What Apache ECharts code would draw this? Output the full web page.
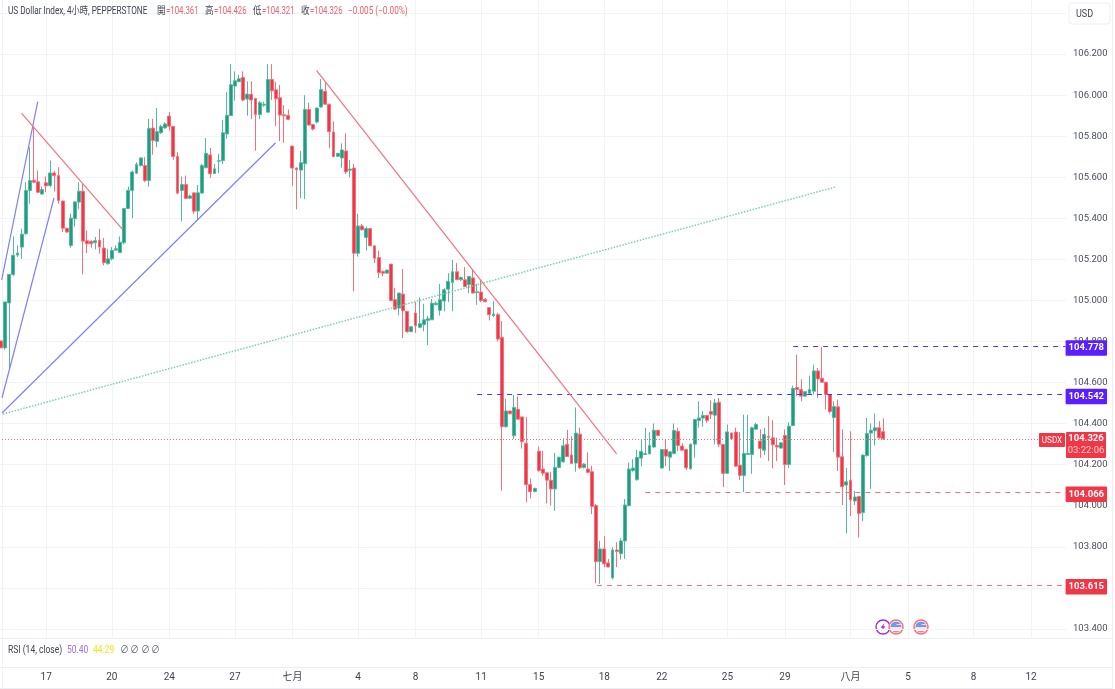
<!DOCTYPE html>
<html><head><meta charset="utf-8">
<style>html,body{margin:0;padding:0;background:#fff}#c{width:1115px;height:689px}</style>
<script src="https://cdn.jsdelivr.net/npm/echarts@6/dist/echarts.min.js"></script>
</head><body><div id="c"></div>
<script>
const opens=[
104.803,104.769,104.988,105.127,105.221,105.260,105.325,105.536,105.586,105.578,
105.518,105.573,105.560,105.621,105.608,105.484,105.352,105.268,105.398,105.479,
105.532,105.291,105.288,105.281,105.293,105.255,105.179,105.203,105.245,105.233,
105.281,105.448,105.536,105.620,105.657,105.657,105.584,105.840,105.775,105.817,
105.840,105.898,105.847,105.701,105.536,105.565,105.498,105.524,105.436,105.523,
105.646,105.709,105.618,105.678,105.681,105.811,105.900,106.044,106.065,106.086,
105.981,106.004,105.984,105.906,105.951,105.917,106.076,106.026,105.987,105.904,
105.901,105.752,105.645,105.635,105.666,105.930,105.857,105.869,105.942,106.019,
105.956,105.820,105.702,105.694,105.728,105.634,105.645,105.230,105.363,105.307,
105.350,105.266,105.209,105.141,105.133,105.177,105.004,104.963,105.031,104.947,
104.848,104.939,104.869,104.882,104.903,104.906,104.979,104.952,104.997,105.055,
105.088,105.140,105.101,105.101,105.077,105.110,105.038,105.041,105.005,104.965,
104.926,104.931,104.820,104.385,104.462,104.341,104.470,104.433,104.305,104.103,
104.070,104.266,104.179,104.161,104.125,104.082,104.187,104.214,104.300,104.247,
104.208,104.349,104.187,104.179,104.166,104.001,103.728,103.790,103.722,103.649,
103.785,103.767,103.829,104.001,104.172,104.127,104.232,104.250,104.253,104.286,
104.368,104.184,104.274,104.237,104.255,104.363,104.291,104.274,104.180,104.300,
104.415,104.427,104.440,104.459,104.441,104.504,104.299,104.158,104.355,104.359,
104.198,104.148,104.250,104.250,104.373,104.315,104.271,104.339,104.331,104.294,
104.281,104.342,104.201,104.391,104.576,104.566,104.534,104.547,104.558,104.657,
104.621,104.602,104.542,104.430,104.482,104.239,104.101,104.125,104.023,104.046,
103.967,104.245,104.354,104.365,104.380,104.361];
const closes=[
104.769,104.993,105.127,105.220,105.231,105.323,105.536,105.584,105.576,105.527,
105.540,105.558,105.621,105.608,105.487,105.352,105.333,105.401,105.480,105.532,
105.289,105.276,105.276,105.291,105.260,105.184,105.203,105.244,105.252,105.284,
105.448,105.536,105.626,105.662,105.694,105.584,105.838,105.779,105.822,105.847,
105.860,105.848,105.701,105.523,105.565,105.497,105.509,105.435,105.524,105.657,
105.717,105.617,105.641,105.681,105.817,105.902,106.051,106.070,106.080,105.976,
106.005,105.976,105.906,105.963,105.956,106.076,106.021,105.982,105.903,105.899,
105.882,105.645,105.637,105.671,105.930,105.854,105.835,105.937,106.027,105.956,
105.822,105.700,105.716,105.733,105.626,105.640,105.230,105.363,105.344,105.350,
105.266,105.206,105.135,105.133,105.148,105.000,104.958,105.036,104.950,104.848,
104.872,104.877,104.887,104.906,104.911,104.987,104.987,105.004,105.052,105.093,
105.140,105.101,105.112,105.068,105.117,105.036,105.042,105.000,104.994,104.931,
104.934,104.812,104.385,104.462,104.448,104.479,104.422,104.312,104.103,104.069,
104.085,104.171,104.159,104.125,104.082,104.187,104.237,104.292,104.240,104.206,
104.354,104.185,104.203,104.163,103.997,103.728,103.790,103.717,103.702,103.785,
103.777,103.829,104.004,104.179,104.184,104.235,104.265,104.255,104.294,104.368,
104.342,104.274,104.242,104.263,104.367,104.294,104.271,104.185,104.299,104.420,
104.428,104.440,104.415,104.446,104.501,104.300,104.158,104.360,104.326,104.193,
104.148,104.255,104.255,104.380,104.396,104.279,104.347,104.334,104.297,104.286,
104.307,104.201,104.388,104.572,104.566,104.534,104.556,104.566,104.657,104.618,
104.602,104.542,104.459,104.483,104.237,104.093,104.117,104.028,104.043,103.963,
104.247,104.352,104.368,104.380,104.331,104.326];
const lows=[
104.769,104.760,104.662,105.118,105.212,105.203,105.320,105.471,105.571,105.523,
105.516,105.527,105.552,105.531,105.471,105.333,105.331,105.257,105.360,105.446,
105.127,105.231,105.257,105.249,105.228,105.171,105.174,105.195,105.244,105.231,
105.273,105.445,105.401,105.617,105.652,105.576,105.555,105.710,105.746,105.811,
105.837,105.827,105.685,105.516,105.385,105.497,105.495,105.422,105.389,105.519,
105.646,105.597,105.617,105.620,105.665,105.787,105.900,105.973,106.064,105.970,
105.900,105.884,105.729,105.883,105.943,105.916,105.976,105.849,105.776,105.768,
105.878,105.558,105.444,105.498,105.494,105.852,105.827,105.862,105.940,105.953,
105.741,105.700,105.700,105.647,105.616,105.600,105.044,105.214,105.341,105.243,
105.266,105.182,105.109,105.117,105.133,104.996,104.955,104.927,104.817,104.842,
104.846,104.842,104.868,104.850,104.783,104.906,104.976,104.927,104.947,104.992,
104.947,105.101,105.094,105.065,105.036,105.036,104.979,104.991,104.991,104.903,
104.919,104.801,104.074,104.381,104.446,104.325,104.422,104.279,104.017,104.036,
104.065,104.166,104.146,104.012,104.001,103.976,104.185,104.211,104.240,104.203,
104.166,104.179,104.182,104.158,103.960,103.623,103.620,103.701,103.701,103.641,
103.701,103.738,103.741,103.997,104.166,104.122,104.193,104.250,104.250,104.282,
104.339,104.180,104.193,104.169,104.250,104.266,104.270,104.174,104.177,104.234,
104.381,104.385,104.404,104.423,104.299,104.286,104.091,104.156,104.323,104.190,
104.125,104.067,104.250,104.156,104.372,104.234,104.247,104.218,104.182,104.218,
104.279,104.101,104.185,104.388,104.534,104.509,104.534,104.542,104.542,104.525,
104.598,104.469,104.449,104.261,104.169,104.004,103.866,103.950,104.004,103.845,
103.926,104.239,104.083,104.294,104.326,104.321];
const highs=[
104.803,104.993,105.127,105.312,105.268,105.349,105.576,105.746,105.843,105.633,
105.555,105.604,105.681,105.630,105.649,105.487,105.352,105.422,105.484,105.576,
105.568,105.341,105.293,105.309,105.349,105.305,105.252,105.260,105.268,105.312,
105.448,105.555,105.633,105.673,105.698,105.698,105.884,105.884,105.937,105.856,
105.868,105.918,105.847,105.722,105.604,105.608,105.516,105.524,105.563,105.665,
105.791,105.743,105.665,105.714,105.879,106.014,106.151,106.116,106.099,106.116,
106.067,106.067,105.984,105.971,105.968,106.151,106.151,106.065,106.049,105.951,
105.930,105.752,105.648,105.728,106.000,105.963,105.857,105.940,106.078,106.060,
105.956,105.872,105.720,105.765,105.814,105.684,105.665,105.422,105.373,105.360,
105.350,105.266,105.243,105.146,105.149,105.177,105.060,105.036,105.153,104.947,
104.874,104.992,105.015,104.984,104.925,105.007,104.996,105.081,105.060,105.133,
105.198,105.182,105.117,105.162,105.120,105.149,105.081,105.098,105.012,104.965,
104.996,104.939,104.900,104.522,104.462,104.540,104.532,104.433,104.433,104.133,
104.088,104.289,104.268,104.161,104.166,104.257,104.237,104.329,104.370,104.338,
104.479,104.381,104.208,104.260,104.195,104.009,103.830,103.852,103.741,103.798,
103.822,103.842,104.033,104.211,104.227,104.273,104.323,104.380,104.359,104.401,
104.368,104.274,104.326,104.266,104.401,104.380,104.304,104.278,104.304,104.420,
104.509,104.461,104.444,104.513,104.521,104.525,104.299,104.396,104.355,104.380,
104.359,104.444,104.444,104.385,104.404,104.372,104.380,104.436,104.417,104.331,
104.310,104.372,104.407,104.585,104.736,104.615,104.558,104.634,104.687,104.671,
104.773,104.602,104.542,104.509,104.517,104.372,104.185,104.363,104.072,104.048,
104.250,104.428,104.401,104.449,104.412,104.426];

const slotCount=260;
const tickIndex=[11,27,41,57,71,87,101,117,131,147,161,177,191,207,221,237,251];
const tickLabels=['17','20','24','27','七月','4','8','11','15','18','22','25','29','八月','5','8','12'];
const priceTicks=[106.2,106,105.8,105.6,105.4,105.2,105,104.8,104.6,104.4,104.2,104,103.8,103.6,103.4];

const blueLines=[[[0.16,105.10],[8.93,105.968]],[[0.23,104.525],[12.9,105.499]],[[0.23,104.452],[66.9,105.768]]];
const redLines=[[[5.03,105.911],[29.54,105.347]],[[76.9,106.119],[150,104.253]]];
const greenLine=[[0.47,104.447],[203.2,105.552]];
const blueLevels=[[193,104.778],[116,104.542]];
const redLevels=[[157,104.066],[145.2,103.615]];
const lastPrice=104.326;

const UP='#1f9d80',DOWN='#f23645',BLUE='#5a1fff',FONT='Roboto,"Noto Sans CJK TC",sans-serif',GRID='#f1f3f8';
const catNames=Array.from({length:slotCount},(_,i)=>{const k=tickIndex.indexOf(i);return k<0?'':tickLabels[k]});

function seg(data,color,type,width,opacity){return {type:'line',xAxisIndex:2,yAxisIndex:0,data:data,showSymbol:false,silent:true,animation:false,z:5,
  lineStyle:{color:color,width:width,type:type,opacity:opacity}};}
function level(arr,color,lineColor){return {type:'line',xAxisIndex:2,yAxisIndex:0,data:[],silent:true,animation:false,z:6,
  markLine:{silent:true,animation:false,symbol:'none',precision:3,
    lineStyle:{color:lineColor,type:[5,5],width:1},
    data:arr.map(a=>[{coord:[a[0],a[1]]},{coord:[259.4,a[1]],
      label:{show:true,position:'end',distance:0,offset:[0,2],formatter:a[1].toFixed(3),color:'#fff',fontFamily:FONT,fontSize:9.5,fontWeight:'bold',
        backgroundColor:color,padding:[3,3,3,3],borderRadius:1}}])}};}

const series=[
 {type:'candlestick',xAxisIndex:0,yAxisIndex:0,barWidth:3.4,animation:false,z:4,silent:true,
  data:opens.map((o,i)=>[o,closes[i],lows[i],highs[i]]),
  itemStyle:{color:UP,color0:DOWN,borderColor:'#55b8a1',borderColor0:'#f4717c',borderWidth:1}},
 ...blueLines.map(l=>seg(l,'#8080fa','solid',1.2,1)),
 ...redLines.map(l=>seg(l,'#f4727e','solid',1.2,1)),
 seg(greenLine,'#7fcbb0',[1.5,1.5],1.5,1),
 level(blueLevels,BLUE,'#4f35e8'),
 level(redLevels,DOWN,'#f2727e'),
 {type:'line',xAxisIndex:2,yAxisIndex:0,data:[],silent:true,animation:false,z:3,
  markLine:{silent:true,animation:false,symbol:'none',precision:3,
   lineStyle:{color:'#ee6a75',type:[1,2],width:1},
   data:[[{coord:[-0.5,lastPrice]},{coord:[253,lastPrice]}]],label:{show:false}}}
];

function flag(x,y){return {type:'group',x:x,y:y,z:20,children:[
 {type:'circle',shape:{r:7},style:{fill:'#fff',stroke:'#f4717c',lineWidth:1.5}},
 {type:'sector',shape:{r:5.6,r0:0,startAngle:Math.PI,endAngle:2*Math.PI},style:{fill:'#6f9bea'}},
 {type:'sector',shape:{r:5.6,r0:0,startAngle:0,endAngle:Math.PI},style:{fill:'#f2737f'}},
 {type:'rect',shape:{x:-5.5,y:0.2,width:11,height:1.6},style:{fill:'#fff'}},
 {type:'rect',shape:{x:-4.8,y:3,width:9.6,height:1.1},style:{fill:'#fff'}},
 {type:'rect',shape:{x:0.5,y:-3,width:5,height:1},style:{fill:'#fbd7da'}}
]};}
function txt(x,y,t,fill,sx,size,extra){return Object.assign({type:'text',x:x,y:y,z:30,scaleX:sx||1,style:Object.assign({text:t,fill:fill,font:(size||10)+'px '+FONT,textVerticalAlign:'middle'},extra||{})});}
function hline(x1,x2,y,c){return {type:'line',z:1,shape:{x1:x1,y1:y,x2:x2,y2:y},style:{stroke:c||'#eceef5',lineWidth:1}};}
function vline(x,y1,y2,c){return {type:'line',z:1,shape:{x1:x,y1:y1,x2:x,y2:y2},style:{stroke:c||'#eceef5',lineWidth:1}};}

const chart=echarts.init(document.getElementById('c'),null,{renderer:'canvas'});
chart.setOption({
 backgroundColor:'#fff',animation:false,
 grid:[{left:-1,width:1067,top:13,height:616,outerBoundsMode:'none'},{left:1.05,width:1062.9,top:0,height:638,outerBoundsMode:'none'}],
 xAxis:[
  {type:'category',gridIndex:0,data:catNames,show:false},
  {type:'category',gridIndex:1,data:catNames,boundaryGap:false,position:'bottom',
   axisLine:{show:false},axisTick:{show:false},
   axisLabel:{interval:(i,v)=>v!=='',margin:34,color:'#3f4350',fontFamily:FONT,fontSize:10,hideOverlap:false,showMinLabel:true,showMaxLabel:true},
   splitLine:{show:true,interval:(i,v)=>v!=='',lineStyle:{color:GRID,width:1}}},
  {type:'value',gridIndex:0,show:false,min:-0.5,max:259.5,splitLine:{show:false}}
 ],
 yAxis:[
  {type:'value',gridIndex:0,position:'right',min:103.4,max:106.4,interval:0.2,
   axisLine:{show:false},axisTick:{show:false},
   axisLabel:{margin:7,color:'#4a4e5a',fontFamily:FONT,fontSize:9.5,
     formatter:v=>priceTicks.some(t=>Math.abs(t-v)<1e-6)?v.toFixed(3):''},
   splitLine:{show:true,lineStyle:{color:GRID,width:1}}},
  {type:'value',gridIndex:1,show:false,min:0,max:1,splitLine:{show:false}}
 ],
 series:series,
 graphic:[
  hline(0,1112,638.5),hline(0,1112,667.5),hline(0,1112,688.5),vline(1112.5,0,689),vline(2.5,0,689,'#f0f1f8'),
  txt(8,11,'US Dollar Index, 4小時, PEPPERSTONE','#3f4350',0.82),
  txt(157,11,'開','#3f4350',0.85),txt(166,11,'=104.361','#f0606c',0.78),
  txt(205,11,'高','#3f4350',0.85),txt(214,11,'=104.426','#f0606c',0.78),
  txt(253,11,'低','#3f4350',0.85),txt(262,11,'=104.321','#f0606c',0.78),
  txt(301,11,'收','#3f4350',0.85),txt(310,11,'=104.326','#f0606c',0.78),
  txt(348,11,'−0.005 (−0.00%)','#f0606c',0.82),
  txt(8,650,'RSI (14, close)','#3f4350',0.85),
  txt(67,650,'50.40','#9b6fe8',0.85),txt(93,650,'44.29','#f2e50f',0.85),
  txt(120,650,'∅','#6a6d78',0.9),txt(130,650,'∅','#6a6d78',0.9),txt(141,650,'∅','#6a6d78',0.9),txt(151,650,'∅','#6a6d78',0.9),
  {type:'rect',z:25,shape:{x:1069,y:3,width:41,height:21,r:3},style:{fill:'#fff',stroke:'#eceef5',lineWidth:1}},
  txt(1076,14,'USD','#3f4350',0.9),
  {type:'rect',z:25,shape:{x:1039,y:433,width:26,height:14,r:1},style:{fill:DOWN}},
  txt(1052,440.5,'USDX','#fff',0.85,9.5,{textAlign:'center'}),
  {type:'rect',z:25,shape:{x:1066,y:432,width:40,height:26,r:1},style:{fill:DOWN}},
  txt(1086,439,'104.326','#fff',1,9.5,{textAlign:'center',font:'bold 9.5px '+FONT}),
  txt(1086,451,'03:22:06','#fbd0d4',1,9.5,{textAlign:'center'}),
  {type:'group',x:883,y:627,z:20,children:[
   {type:'circle',shape:{r:7},style:{fill:'#fff',stroke:'#a52bd6',lineWidth:1.4}},
   {type:'polygon',shape:{points:[[1.5,-4],[-2.5,0.8],[-0.3,0.8],[-1.5,4],[2.5,-0.8],[0.3,-0.8]]},style:{fill:'#a52bd6'}}]},
  flag(896,627),flag(921,627)
 ]
});
</script></body></html>
